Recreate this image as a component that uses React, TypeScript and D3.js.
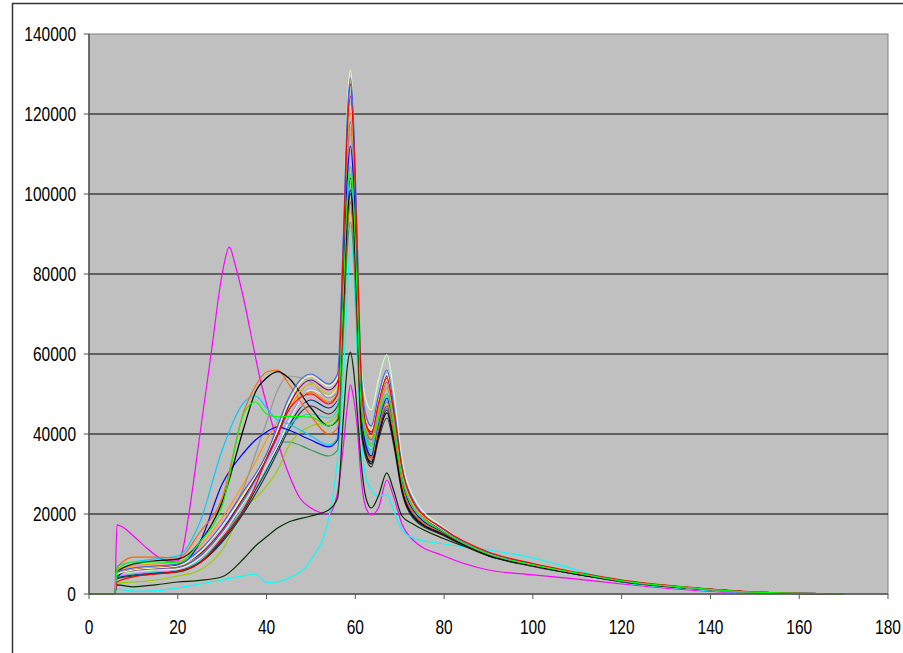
import React from 'react';
import * as d3 from 'd3';

// shared sample positions (x) for most traces
const X = [0, 5.8, 6.3, 10, 15, 20, 25, 30, 35, 37.5, 40, 42.5, 45, 50, 54, 56, 57.3, 58.2, 58.9, 59.6, 60.4, 61.3, 62.4, 63.6, 65.2, 67.1, 68.6, 70.5, 73, 80, 90, 100, 110, 120, 135, 150, 170];

// the magenta trace peaks early, so it gets its own x list
const MAGENTA_X = [0, 5.8, 6.3, 7.5, 10, 13, 16, 18, 20, 21, 22.5, 25, 27.5, 30, 31.6, 33, 35, 37, 38.5, 40, 42.5, 45, 47.5, 50, 54, 56, 57.3, 58.2, 58.9, 59.6, 60.4, 61.3, 62.4, 63.6, 65.2, 67.1, 68.6, 70.5, 73, 80, 90, 100, 110, 120, 135, 150, 170];
const magenta = [0, 0, 17300, 16800, 14500, 11500, 9000, 8200, 8300, 10500, 20000, 40000, 60000, 80000, 86700, 82000, 73000, 62000, 54000, 47500, 38000, 30000, 24000, 21500, 20000, 25500, 37000, 47000, 52300, 49000, 42000, 29000, 21500, 19800, 21500, 28500, 24400, 17500, 13500, 9500, 6000, 4800, 3700, 2500, 1000, 200, 0];

const cyan = [0, 0, 1200, 700, 800, 1500, 2500, 3500, 4600, 5000, 2900, 3000, 4000, 8500, 19000, 34000, 54000, 75000, 88000, 82000, 60000, 40000, 29000, 26000, 24500, 24800, 21000, 16000, 14000, 12500, 11000, 9000, 6000, 3000, 1300, 300, 0];
const darkGreen = [0, 0, 2300, 1800, 2300, 3000, 3400, 4300, 9000, 12000, 14300, 16500, 18000, 19500, 21000, 24000, 44000, 57000, 60500, 56000, 46000, 33000, 24000, 21500, 24500, 30300, 26000, 19500, 17500, 13800, 10000, 7500, 5000, 3000, 1400, 400, 0];
const seaGreen = [0, 0, 3800, 5000, 5300, 5500, 7800, 13500, 23500, 29000, 35000, 38000, 38000, 36000, 34500, 36000, 65000, 86500, 93000, 85500, 65000, 40500, 35000, 33000, 39500, 46500, 39500, 26500, 19500, 14800, 9600, 7000, 4900, 3200, 1600, 450, 0];
const yellowGreen = [0, 0, 2700, 3000, 3500, 4500, 6000, 11000, 21500, 24000, 27000, 31000, 37000, 42000, 43000, 45000, 72000, 96000, 103000, 95000, 72000, 45000, 38000, 35500, 42500, 48000, 41000, 28000, 21000, 15000, 9700, 7000, 5000, 3200, 1600, 450, 0];
const sky = [0, 0, 7000, 8000, 8800, 9500, 18000, 36000, 48000, 49500, 46500, 43500, 42500, 39500, 37300, 39000, 73500, 97500, 105000, 96500, 73500, 46000, 38000, 36000, 43500, 50000, 42500, 29000, 21000, 15200, 9800, 7100, 5000, 3200, 1600, 450, 0];
const orange = [0, 0, 6500, 9200, 9200, 9000, 15500, 24000, 46000, 52000, 55500, 56000, 52500, 44500, 40000, 41500, 68500, 91000, 98000, 90000, 68500, 42000, 35500, 33500, 41500, 48000, 41000, 27500, 20500, 15000, 9800, 7100, 5000, 3300, 1600, 450, 0];
const black = [0, 0, 5500, 7500, 8300, 8700, 13000, 23000, 42000, 50500, 54000, 55600, 54000, 46500, 42000, 43500, 71000, 94000, 101000, 93000, 71000, 42500, 35000, 32500, 39500, 45300, 38500, 26000, 19500, 14800, 9600, 7000, 4900, 3200, 1600, 450, 0];
const gray = [0, 0, 4300, 6500, 7000, 7200, 10500, 17000, 27000, 35000, 43000, 51000, 54500, 53000, 49000, 50500, 80500, 107000, 115000, 106000, 80500, 49500, 40000, 37500, 45000, 51500, 44000, 30000, 22000, 15500, 10000, 7200, 5100, 3300, 1600, 450, 0];
const blue = [0, 0, 4300, 6200, 6500, 7000, 13000, 27500, 35500, 38500, 40500, 41800, 41000, 38500, 36800, 38500, 78500, 104000, 112000, 103000, 78500, 47000, 37000, 34500, 42000, 49000, 41500, 28500, 21000, 15200, 9800, 7100, 5000, 3200, 1600, 450, 0];
const green = [0, 0, 6000, 8000, 8000, 7800, 13000, 22000, 45500, 48000, 45000, 44300, 44400, 44200, 42000, 44000, 75000, 99500, 107000, 98500, 75000, 47000, 39000, 37000, 44000, 50000, 42500, 29000, 21500, 15500, 10000, 7300, 5200, 3300, 1600, 450, 0];
const royal = [0, 0, 5500, 6500, 7000, 7500, 11000, 17500, 26000, 30000, 35000, 42000, 49000, 55000, 52500, 55000, 90000, 120000, 129000, 119000, 90000, 56000, 44500, 42000, 49500, 56000, 47500, 32000, 23500, 16000, 10300, 7500, 5300, 3400, 1600, 450, 0];
const paleYellow = [0, 0, 5000, 6000, 6500, 7000, 10500, 17000, 25000, 29500, 34500, 41000, 48000, 54500, 52000, 54000, 91000, 122000, 131000, 120000, 91000, 56000, 43500, 41000, 48500, 55000, 46500, 31500, 23000, 15800, 10200, 7400, 5300, 3400, 1600, 450, 0];
const purple = [0, 0, 5000, 6000, 6500, 7300, 10000, 16000, 24500, 29000, 34000, 40000, 47000, 53500, 51000, 53000, 89000, 118500, 127500, 117000, 89000, 55000, 43000, 40500, 48000, 54500, 46000, 31500, 23000, 15600, 10100, 7300, 5200, 3300, 1600, 450, 0];
const red = [0, 0, 3000, 4300, 5000, 5700, 7800, 14000, 21500, 27000, 34000, 40000, 46000, 50000, 47500, 50000, 87000, 116000, 124500, 114500, 87000, 54000, 42500, 40000, 47500, 54000, 46000, 31500, 23000, 16200, 10500, 7600, 5400, 3500, 1700, 500, 0];
const lightOrange = [0, 0, 6000, 7000, 7500, 8000, 12000, 19000, 28000, 33000, 38500, 43000, 47000, 50500, 48000, 50000, 84000, 111500, 120000, 110500, 84000, 52000, 41500, 39000, 46000, 52000, 44000, 30000, 22000, 15400, 10000, 7200, 5100, 3300, 1600, 450, 0];
const paleGreen = [0, 0, 4800, 5500, 6000, 6300, 9000, 15000, 23000, 27000, 32000, 37000, 43000, 51000, 49500, 52000, 85500, 113500, 122000, 112000, 85500, 57000, 48500, 46000, 53500, 59800, 51000, 34000, 24500, 16500, 10500, 7500, 5300, 3400, 1600, 450, 0];
const slate = [0, 0, 5000, 5800, 6300, 6800, 9500, 15500, 24000, 28500, 33500, 39500, 46000, 52500, 50000, 52000, 82500, 109500, 118000, 108500, 82500, 51500, 41000, 38500, 46500, 53000, 45000, 30500, 22500, 15600, 10100, 7300, 5200, 3300, 1600, 450, 0];
const lavender = [0, 0, 4500, 5200, 5700, 6200, 9000, 15000, 23000, 27500, 32500, 38000, 44000, 51500, 49000, 51000, 81000, 108000, 116000, 106500, 81000, 50500, 40500, 38000, 46000, 52500, 44500, 30500, 22000, 15500, 10000, 7200, 5100, 3300, 1600, 450, 0];
const rose = [0, 0, 6000, 6800, 7300, 7800, 11500, 18000, 26500, 30000, 34000, 38000, 43000, 49000, 47000, 49000, 79000, 105000, 113000, 104000, 79000, 49000, 39500, 37000, 44500, 51000, 43500, 29500, 21500, 15300, 9900, 7200, 5100, 3300, 1600, 450, 0];
const paleBlue = [0, 0, 5200, 6000, 6500, 7000, 10000, 16500, 25000, 29500, 34000, 38500, 43500, 48000, 46000, 48000, 77000, 102000, 110000, 101000, 77000, 47500, 38500, 36000, 43500, 50000, 42500, 29000, 21000, 15200, 9800, 7100, 5000, 3200, 1600, 450, 0];
const turquoise = [0, 0, 4300, 5000, 5500, 6000, 8500, 14000, 22000, 26500, 31500, 37000, 42000, 45000, 44000, 46000, 75000, 99500, 107000, 98500, 75000, 46000, 37500, 35000, 42500, 48500, 41000, 28000, 20500, 15000, 9700, 7000, 5000, 3200, 1600, 450, 0];
const gold = [0, 0, 5500, 6300, 6800, 7300, 10500, 17000, 25500, 30000, 35000, 40500, 46500, 52500, 50000, 52000, 88000, 116500, 125500, 115500, 88000, 54500, 43000, 40500, 47500, 53500, 45500, 31000, 22500, 15800, 10200, 7400, 5200, 3400, 1600, 450, 0];
const navy = [0, 0, 4000, 4800, 5300, 5800, 8000, 13500, 21000, 26000, 31000, 36500, 42000, 48500, 46500, 48500, 73000, 96500, 104000, 95500, 73000, 44000, 35500, 33000, 40000, 46000, 39000, 26500, 19500, 14800, 9600, 7000, 4900, 3200, 1600, 450, 0];
const plum = [0, 0, 4800, 5500, 6000, 6500, 9200, 15000, 23000, 27000, 32000, 37500, 44000, 50500, 48000, 50000, 70000, 93000, 100000, 92000, 70000, 43500, 36500, 34000, 41000, 47000, 40000, 27000, 20000, 15000, 9700, 7000, 5000, 3200, 1600, 450, 0];
const darkGray = [0, 0, 3800, 4500, 5000, 5500, 7800, 13000, 20500, 25000, 30000, 35500, 41000, 47000, 45000, 47000, 68500, 91000, 98000, 90000, 68500, 41500, 34000, 31800, 38500, 44000, 37500, 25500, 19000, 14500, 9500, 6900, 4900, 3200, 1600, 450, 0];

const Y_TICKS = [0, 20000, 40000, 60000, 80000, 100000, 120000, 140000];
const X_TICKS = [0, 20, 40, 60, 80, 100, 120, 140, 160, 180];

const series = [
  { x: MAGENTA_X, y: magenta, color: '#FF00FF' },
  { x: X, y: cyan, color: '#00FFFF' },
  { x: X, y: darkGreen, color: '#003300' },
  { x: X, y: seaGreen, color: '#339966' },
  { x: X, y: yellowGreen, color: '#99CC00' },
  { x: X, y: darkGray, color: '#333333' },
  { x: X, y: navy, color: '#003366' },
  { x: X, y: plum, color: '#993366' },
  { x: X, y: turquoise, color: '#33CCCC' },
  { x: X, y: paleBlue, color: '#99CCFF' },
  { x: X, y: rose, color: '#FF99CC' },
  { x: X, y: lavender, color: '#CC99FF' },
  { x: X, y: slate, color: '#666699' },
  { x: X, y: paleGreen, color: '#CCFFCC' },
  { x: X, y: lightOrange, color: '#FF9900' },
  { x: X, y: gray, color: '#969696' },
  { x: X, y: sky, color: '#00CCFF' },
  { x: X, y: blue, color: '#0000FF' },
  { x: X, y: orange, color: '#FF6600' },
  { x: X, y: black, color: '#000000' },
  { x: X, y: gold, color: '#FFCC00' },
  { x: X, y: purple, color: '#800080' },
  { x: X, y: paleYellow, color: '#FFFF99' },
  { x: X, y: royal, color: '#3366FF' },
  { x: X, y: red, color: '#FF0000' },
  { x: X, y: green, color: '#00FF00' },
];

const W = 903;
const H = 653;
const left = 89, right = 888, top = 34, bottom = 594;
const font = '"Liberation Sans", Arial, sans-serif';
const fontSize = 15.5;
const stretch = 1.27; // glyphs in the picture are tall and narrow

export default function App() {
  const xScale = d3.scaleLinear().domain([0, 180]).range([left, right]);
  const yScale = d3.scaleLinear().domain([0, 140000]).range([bottom, top]);
  const lineGen = d3.line<[number, number]>()
    .x(d => xScale(d[0]))
    .y(d => yScale(d[1]))
    .curve(d3.curveMonotoneX);

  return (
    <div style={{ position: 'fixed', left: 0, top: 0 }}>
      <svg width={W} height={H} style={{ display: 'block', background: '#fff' }}>
        {/* outer chart frame */}
        <path d={`M12.5,${H} V3.5 H${W}`} fill="none" stroke="#333" strokeWidth={1.5} />
        <rect x={left} y={top} width={right - left} height={bottom - top} fill="#C0C0C0" stroke="#808080" strokeWidth={1} />
        {Y_TICKS.filter(t => t > 0 && t < 140000).map(t => (
          <line key={t} x1={left} x2={right} y1={yScale(t)} y2={yScale(t)} stroke="#000" strokeWidth={1} />
        ))}
        <g>
          {series.map((s, i) => (
            <path key={i} d={lineGen(s.x.map((v, j) => [v, s.y[j]] as [number, number])) || ''}
              fill="none" stroke={s.color} strokeWidth={1.2} />
          ))}
        </g>
        {/* axes */}
        <line x1={left} x2={left} y1={top} y2={bottom} stroke="#555" strokeWidth={1.5} />
        <line x1={left} x2={right} y1={bottom} y2={bottom} stroke="#555" strokeWidth={1.5} />
        {Y_TICKS.map(t => (
          <g key={t}>
            <line x1={left - 5} x2={left} y1={yScale(t)} y2={yScale(t)} stroke="#555" />
            <text transform={`translate(76,${yScale(t) + 7}) scale(1,${stretch})`} textAnchor="end"
              fontFamily={font} fontSize={fontSize} fill="#000">{t}</text>
          </g>
        ))}
        {X_TICKS.map(t => (
          <g key={t}>
            <line x1={xScale(t)} x2={xScale(t)} y1={bottom} y2={bottom + 5} stroke="#555" />
            <text transform={`translate(${xScale(t)},634) scale(1,${stretch})`} textAnchor="middle"
              fontFamily={font} fontSize={fontSize} fill="#000">{t}</text>
          </g>
        ))}
      </svg>
    </div>
  );
}
